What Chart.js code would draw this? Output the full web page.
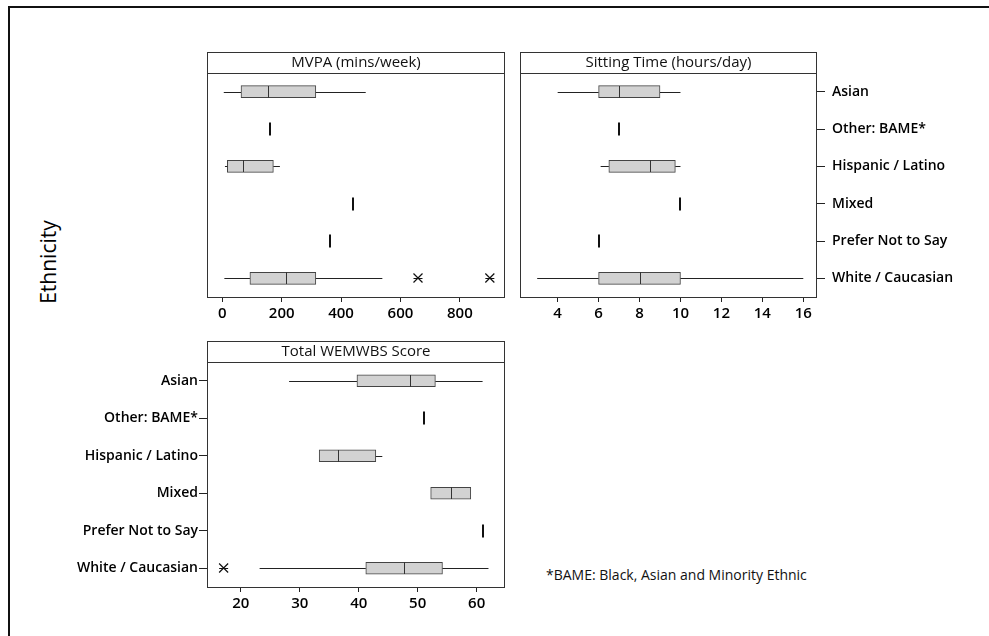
<!DOCTYPE html>
<html><head><meta charset="utf-8">
<script src="https://cdn.jsdelivr.net/npm/chart.js@4"></script>
<style>
html,body{margin:0;padding:0;background:#fff;width:989px;height:636px;overflow:hidden;font-family:'Open Sans',sans-serif;}
.frame{position:absolute;left:8px;top:6px;width:1000px;height:700px;border-left:2px solid #111;border-top:2px solid #111;}
canvas{position:absolute;}
#ylab{position:absolute;left:48px;top:262px;transform:translate(-50%,-50%) rotate(-90deg);font-size:21px;color:#000;white-space:nowrap;}
#foot{position:absolute;left:546px;top:565px;font-size:14px;color:#111;white-space:nowrap;}
</style></head>
<body>
<div class="frame"></div>
<div id="ylab">Ethnicity</div>
<div id="foot">*BAME: Black, Asian and Minority Ethnic</div>
<canvas id="c1" width="312" height="277" style="left:200px;top:50px;width:312px;height:277px"></canvas>
<canvas id="c2" width="476" height="277" style="left:513px;top:50px;width:476px;height:277px"></canvas>
<canvas id="c3" width="512" height="278" style="left:0px;top:339px;width:512px;height:278px"></canvas>
<script>
const categories = ['Asian','Other: BAME*','Hispanic / Latino','Mixed','Prefer Not to Say','White / Caucasian'];

const mvpaLow      = [5,   null, 9,   null, null, 7];
const mvpaQ1       = [63,  null, 17,  null, null, 93];
const mvpaMedian   = [155, 160,  71,  441,  363,  213];
const mvpaQ3       = [315, null, 172, null, null, 315];
const mvpaHigh     = [483, null, 194, null, null, 539];
const mvpaOutliers = [[], [], [], [], [], [659, 901]];
const mvpaTicks    = [0, 200, 400, 600, 800];

const sitLow      = [4,  null, 6.1,  null, null, 3];
const sitQ1       = [6,  null, 6.5,  null, null, 6];
const sitMedian   = [7,  7,    8.5,  10,   6,    8];
const sitQ3       = [9,  null, 9.75, null, null, 10];
const sitHigh     = [10, null, 10,   null, null, 16];
const sitOutliers = [[], [], [], [], [], []];
const sitTicks    = [4, 6, 8, 10, 12, 14, 16];

const wemLow      = [28.2, null, 33.3, 52.2, null, 23.2];
const wemQ1       = [39.7, null, 33.3, 52.2, null, 41.2];
const wemMedian   = [48.7, 51,   36.5, 55.6, 61,   47.6];
const wemQ3       = [53,   null, 42.9, 59,   null, 54.2];
const wemHigh     = [61,   null, 44,   59,   null, 62];
const wemOutliers = [[], [], [], [], [], [17.1]];
const wemTicks    = [20, 30, 40, 50, 60];

function extrasPlugin(title, low, q1, med, q3, high, outliers){
  return {
    id:'boxExtras',
    afterDatasetsDraw(chart){
      const {ctx, scales:{x, y}} = chart;
      ctx.save();
      categories.forEach((c, i) => {
        const yc = Math.round(y.getPixelForValue(i));
        if (q1[i] == null) {
          const xm = Math.round(x.getPixelForValue(med[i]));
          ctx.strokeStyle = '#111'; ctx.lineWidth = 2;
          ctx.beginPath(); ctx.moveTo(xm, yc - 6.5); ctx.lineTo(xm, yc + 6.5); ctx.stroke();
        } else {
          ctx.strokeStyle = '#222'; ctx.lineWidth = 1;
          const yl = yc + 0.5;
          const pLo = x.getPixelForValue(low[i]), pQ1 = x.getPixelForValue(q1[i]);
          const pQ3 = x.getPixelForValue(q3[i]), pHi = x.getPixelForValue(high[i]);
          ctx.beginPath();
          if (pQ1 - pLo > 0.5) { ctx.moveTo(pLo, yl); ctx.lineTo(pQ1, yl); }
          if (pHi - pQ3 > 0.5) { ctx.moveTo(pQ3, yl); ctx.lineTo(pHi, yl); }
          ctx.stroke();
          const xm = Math.round(x.getPixelForValue(med[i])) + 0.5;
          ctx.strokeStyle = '#333';
          ctx.beginPath(); ctx.moveTo(xm, yc - 6); ctx.lineTo(xm, yc + 6); ctx.stroke();
        }
        ctx.strokeStyle = '#111'; ctx.lineWidth = 1.2;
        outliers[i].forEach(v => {
          const xo = x.getPixelForValue(v), s = 4.5;
          ctx.beginPath();
          ctx.moveTo(xo - s, yc - s); ctx.lineTo(xo + s, yc + s);
          ctx.moveTo(xo - s, yc + s); ctx.lineTo(xo + s, yc - s);
          ctx.moveTo(xo - s, yc + 0.5); ctx.lineTo(xo + s, yc + 0.5);
          ctx.stroke();
        });
      });
      ctx.restore();
    },
    afterDraw(chart){
      const {ctx, chartArea:a} = chart;
      ctx.save();
      ctx.strokeStyle = '#333'; ctx.lineWidth = 1;
      ctx.strokeRect(a.left + 0.5, a.top + 0.5, a.right - a.left - 1, a.bottom - a.top);
      ctx.strokeRect(a.left + 0.5, a.top - 20.5, a.right - a.left - 1, 21);
      ctx.fillStyle = '#111';
      ctx.font = '15px "Open Sans"';
      ctx.textAlign = 'center'; ctx.textBaseline = 'middle';
      ctx.fillText(title, (a.left + a.right) / 2, a.top - 10);
      ctx.restore();
    }
  };
}

function makePanel(id, cfg){
  const boxes = cfg.q1.map((v, i) => v == null ? null : [v, cfg.q3[i]]);
  return new Chart(document.getElementById(id), {
    type:'bar',
    data:{labels:categories, datasets:[{
      data:boxes, backgroundColor:'#d2d2d2', borderColor:'#444', borderWidth:1,
      borderSkipped:false, barThickness:12
    }]},
    options:{
      indexAxis:'y', responsive:false, animation:false, devicePixelRatio:1,
      layout:{padding:cfg.padding},
      plugins:{legend:{display:false}, tooltip:{enabled:false}, title:{display:false}},
      scales:{
        x:{
          type:'linear', min:cfg.min, max:cfg.max,
          afterBuildTicks: s => { s.ticks = cfg.ticks.map(v => ({value:v})); },
          grid:{display:true, drawOnChartArea:false, drawTicks:true, tickLength:5, color:'#222'},
          border:{display:false},
          ticks:{color:'#000', font:{family:'Open Sans', size:15, weight:'600'}, padding:3, maxRotation:0, autoSkip:false},
          afterFit: s => { s.height = 30; }
        },
        y:{
          type:'category', display:cfg.yDisplay, position:cfg.yPos, offset:true,
          grid:{display:true, drawOnChartArea:false, drawTicks:true, tickLength:8, color:'#222', offset:false},
          border:{display:false},
          ticks:{color:'#000', font:{family:'Open Sans', size:14, weight:'600'}, padding:cfg.yPad, autoSkip:false},
          afterFit: s => { s.width = cfg.yWidth; }
        }
      }
    },
    plugins:[extrasPlugin(cfg.title, cfg.low, cfg.q1, cfg.med, cfg.q3, cfg.high, cfg.outliers)]
  });
}

makePanel('c1', {title:'MVPA (mins/week)', low:mvpaLow, q1:mvpaQ1, med:mvpaMedian, q3:mvpaQ3, high:mvpaHigh,
  outliers:mvpaOutliers, ticks:mvpaTicks, min:-51.5, max:952,
  padding:{left:7, right:7, top:23, bottom:0}, yDisplay:false, yPos:'left', yWidth:0, yPad:0});
makePanel('c2', {title:'Sitting Time (hours/day)', low:sitLow, q1:sitQ1, med:sitMedian, q3:sitQ3, high:sitHigh,
  outliers:sitOutliers, ticks:sitTicks, min:2.16, max:16.67,
  padding:{left:7, right:0, top:23, bottom:0}, yDisplay:true, yPos:'right', yWidth:172, yPad:7});
makePanel('c3', {title:'Total WEMWBS Score', low:wemLow, q1:wemQ1, med:wemMedian, q3:wemQ3, high:wemHigh,
  outliers:wemOutliers, ticks:wemTicks, min:14.28, max:64.8,
  padding:{left:0, right:7, top:23, bottom:0}, yDisplay:true, yPos:'left', yWidth:207, yPad:1});
</script>
</body></html>
